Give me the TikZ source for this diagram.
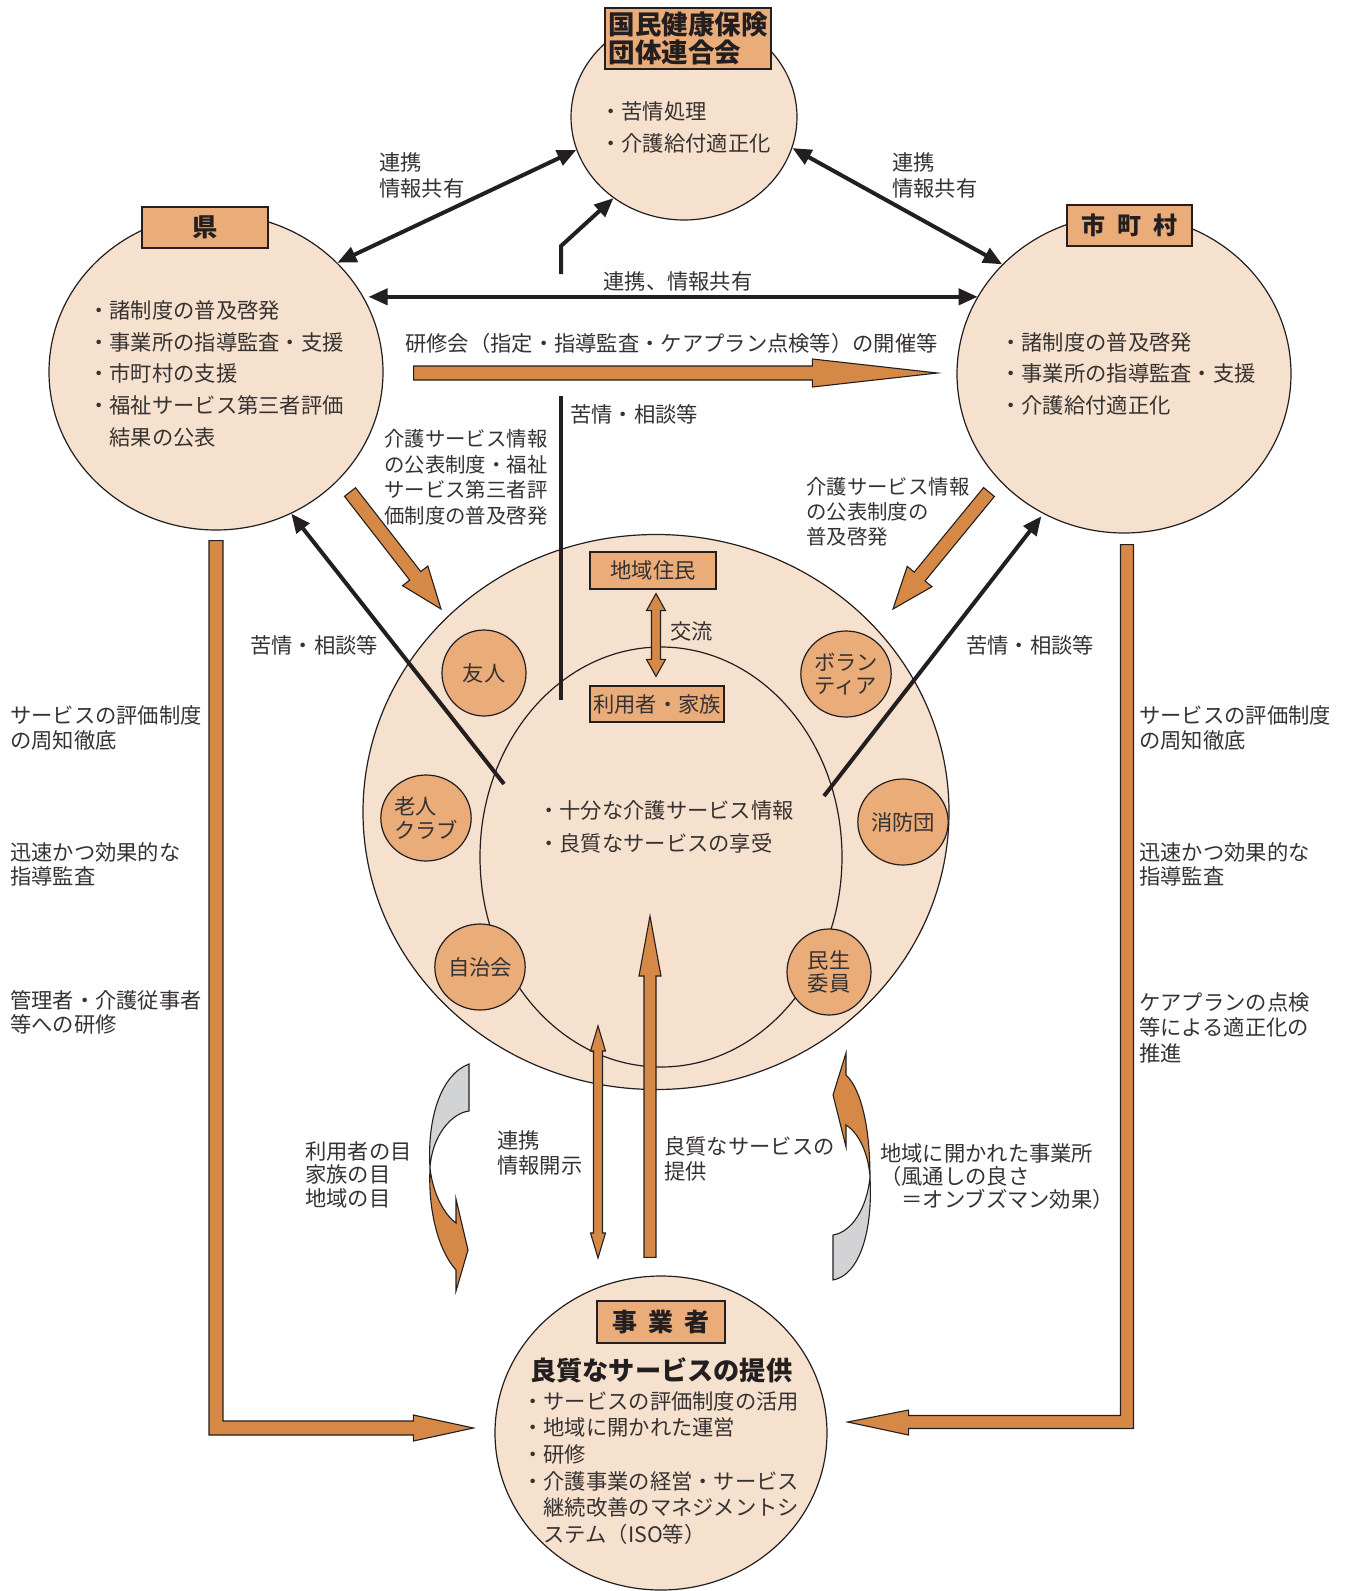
\documentclass[tikz,border=0pt]{standalone}
\usepackage{fontspec}
\setmainfont{Noto Sans CJK JP}
\usetikzlibrary{shapes.geometric,arrows.meta,calc}
\definecolor{cpeach}{RGB}{246,225,206}
\definecolor{ctan}{RGB}{234,172,121}
\definecolor{corange}{RGB}{214,137,70}
\definecolor{cgray}{RGB}{209,211,212}
\definecolor{cink}{RGB}{35,31,32}
\definecolor{ctext}{RGB}{55,50,50}
\newcommand\blockarrow[6][]{%
  \coordinate (bah) at ($(#3)!#6!(#2)$);
  \draw[blockarr,#1] ($(#2)!#4!90:(#3)$) -- ($(bah)!#4!90:(#3)$) -- ($(bah)!#5!90:(#3)$) -- (#3) -- ($(bah)!#5!-90:(#3)$) -- ($(bah)!#4!-90:(#3)$) -- ($(#2)!#4!-90:(#3)$) -- cycle;}
\newcommand\dblockarrow[6][]{%
  \coordinate (bah) at ($(#3)!#6!(#2)$);
  \coordinate (bat) at ($(#2)!#6!(#3)$);
  \draw[blockarr,#1] (#2) -- ($(bat)!#5!90:(#3)$) -- ($(bat)!#4!90:(#3)$) -- ($(bah)!#4!90:(#3)$) -- ($(bah)!#5!90:(#3)$) -- (#3) -- ($(bah)!#5!-90:(#3)$) -- ($(bah)!#4!-90:(#3)$) -- ($(bat)!#4!-90:(#3)$) -- ($(bat)!#5!-90:(#3)$) -- cycle;}
\begin{document}
\begin{tikzpicture}[x=1pt,y=-1pt,
  big/.style={ellipse, draw=cink, line width=1.2pt, fill=cpeach, inner sep=0pt},
  hdr/.style={draw=cink, line width=1.3pt, fill=ctan, inner sep=0pt, text=cink, font=\fontsize{26.5pt}{27.5pt}\selectfont\bfseries},
  lbl/.style={inner sep=0pt, text=ctext, font=\fontsize{21.3pt}{25.4pt}\selectfont, align=left},
  ml/.style={lbl, anchor=north west, font=\fontsize{21.3pt}{#1}\selectfont},
  mls/.style={lbl, anchor=north west, font=\fontsize{20.4pt}{#1}\selectfont},
  sl/.style={lbl, anchor=base west},
  sm/.style={ellipse, draw=cink, line width=1.2pt, fill=ctan, inner sep=0pt, minimum width=84pt, minimum height=86pt, text=ctext, font=\fontsize{21.3pt}{23.5pt}\selectfont, align=left},
  ibox/.style={draw=cink, line width=1.2pt, fill=ctan, inner sep=0pt, text=ctext, font=\fontsize{21.3pt}{24pt}\selectfont},
  blk/.style={draw=cink, line width=4pt},
  blkarr/.style={blk, -{Triangle[length=19pt,width=16pt]}},
  blkdbl/.style={blk, {Triangle[length=19pt,width=16pt]}-{Triangle[length=19pt,width=16pt]}},
  blockarr/.style={draw=cink, line width=1.1pt, fill=corange, line join=miter},
  curv/.style={draw=cink, line width=1.1pt},
]
\useasboundingbox (0,0) rectangle (1347,1591);

% main ellipses
\node[big, minimum width=226pt, minimum height=206pt] (koku) at (684,117) {};
\node[big, minimum width=334pt, minimum height=316pt] (ken) at (216,372) {};
\node[big, minimum width=334pt, minimum height=318pt] (shi) at (1124,374) {};
\node[big, minimum width=586pt, minimum height=555pt] (outer) at (656,812) {};
\node[big, minimum width=362pt, minimum height=420pt] (inner) at (661,857) {};
\node[big, minimum width=332pt, minimum height=314pt] (jig) at (661,1433) {};

% header boxes
\node[hdr, minimum width=166pt, minimum height=61pt, align=left] (hkoku) at (688,38.5) {国民健康保険\\団体連合会};
\node[hdr, minimum width=126pt, minimum height=41pt, font=\fontsize{25.3pt}{27pt}\selectfont\bfseries] (hken) at (205,227.5) {県};
\node[hdr, minimum width=125pt, minimum height=41pt, font=\fontsize{24pt}{26pt}\selectfont\bfseries] (hshi) at (1129.5,225.5) {市\hspace{0.5em}町\hspace{0.5em}村};
\node[hdr, minimum width=128pt, minimum height=42pt, font=\fontsize{25pt}{26pt}\selectfont\bfseries] (hjig) at (661,1322) {事\hspace{0.45em}業\hspace{0.45em}者};

% inner boxes and small circles
\node[ibox, minimum width=126pt, minimum height=37pt] (chiiki) at (653,570.5) {地域住民};
\node[ibox, minimum width=134pt, minimum height=36pt] (riyo) at (657,704) {利用者・家族};
\node[sm] (yujin) at (484,673) {友人};
\node[sm] (vol) at (846,674) {ボラン\\ティア};
\node[sm] (rojin) at (426,818) {老人\\クラブ};
\node[sm] (shobo) at (903,822) {消防団};
\node[sm] (jichi) at (480,967) {自治会};
\node[sm] (minsei) at (829,972) {民生\\委員};

% orange block arrows
\coordinate (ksA) at ($(ken.east)+(30,1)$);
\coordinate (ksB) at ($(shi.west)+(-19,-1)$);
\blockarrow{ksA}{ksB}{7pt}{14pt}{125pt}
\coordinate (dlA) at (350,492);
\coordinate (dlB) at (441,609);
\blockarrow{dlA}{dlB}{7pt}{16pt}{42pt}
\coordinate (drA) at (989,492);
\coordinate (drB) at (893,609);
\blockarrow{drA}{drB}{7pt}{16pt}{42pt}
\coordinate (kouA) at ($(chiiki.south)+(3,4)$);
\coordinate (kouB) at ($(riyo.north)+(-1,-9)$);
\dblockarrow{kouA}{kouB}{4.5pt}{9.5pt}{17pt}
\coordinate (kjA) at (598,1258);
\coordinate (kjB) at (598,1026);
\dblockarrow{kjA}{kjB}{4.5pt}{7.5pt}{25pt}
\coordinate (ryA) at ($(jig.north)+(-11,-18)$);
\coordinate (ryB) at (650,916);
\blockarrow{ryA}{ryB}{6pt}{11pt}{60pt}

% L-shaped arrows
\coordinate (LA) at ($(ken.south)+(0,10)$);
\coordinate (LT) at ($(jig.west)+(-21,-5)$);
\draw[blockarr] ($(LA)+(-7,0)$) -- ($(LA)+(7,0)$) -- ($(LA |- LT)+(7,-7)$) -- ($(LT)+(-60,-7)$) -- ($(LT)+(-60,-13)$) -- (LT) -- ($(LT)+(-60,13)$) -- ($(LT)+(-60,7)$) -- ($(LA |- LT)+(-7,7)$) -- cycle;
\coordinate (RA) at ($(shi.south)+(3,11)$);
\coordinate (RT) at ($(jig.east)+(20,-11)$);
\draw[blockarr] ($(RA)+(-6.5,0)$) -- ($(RA)+(6.5,0)$) -- ($(RA |- RT)+(6.5,6.5)$) -- ($(RT)+(61,6.5)$) -- ($(RT)+(61,13)$) -- (RT) -- ($(RT)+(61,-12)$) -- ($(RT)+(61,-6.5)$) -- ($(RA |- RT)+(-6.5,-6.5)$) -- cycle;

% curved twisted arrows
\draw[curv, fill=cgray] (469,1064) -- (469,1111) .. controls (452,1113) and (432,1135) .. (430,1168) .. controls (427,1120) and (440,1075) .. (469,1064) -- cycle;
\draw[curv, fill=corange] (430,1168) .. controls (433,1195) and (445,1215) .. (456,1223) -- (456,1199) -- (468,1250) -- (456,1291) -- (456,1270) .. controls (438,1250) and (428,1210) .. (430,1168) -- cycle;
\draw[curv, fill=corange] (846,1053) -- (833,1095) -- (846,1147) -- (846,1125) .. controls (862,1135) and (869,1160) .. (870,1177) .. controls (870,1130) and (862,1090) .. (846,1075) -- cycle;
\draw[curv, fill=cgray] (870,1177) .. controls (873,1230) and (860,1275) .. (833,1280) -- (833,1235) .. controls (852,1232) and (867,1208) .. (870,1177) -- cycle;

% black connectors
\draw[blkdbl] (ken.42) -- (koku.197);
\draw[blkdbl] (koku.344) -- (shi.138);
\draw[blkdbl, shorten <=5pt] (ken.27) -- (ken.27 -| shi.152);
\coordinate (kq1) at (504,784);
\draw[blkarr] (kq1) -- (ken.298);
\coordinate (kq2) at (824,796);
\draw[blkarr, shorten >=3pt] (kq2) -- (shi.240);
\coordinate (kv1) at (561,700);
\coordinate (kv2) at (561,396);
\draw[blk] (kv1) -- (kv2);
\coordinate (kv3) at (561,274);
\coordinate (kv4) at (561,246);
\draw[blkarr, line join=miter] (kv3) -- (kv4) -- (koku.229);

% circle texts
\node[ml=32pt] (tkoku) at (600,101) {・苦情処理\\・介護給付適正化};
\node[ml=31.7pt] (tken) at (88,300.2) {・諸制度の普及啓発\\・事業所の指導監査・支援\\・市町村の支援\\・福祉サービス第三者評価\\　結果の公表};
\node[ml=31.6pt] (tshi) at (1000,332.2) {・諸制度の普及啓発\\・事業所の指導監査・支援\\・介護給付適正化};
\node[ml=33pt] (tinner) at (538,800.2) {・十分な介護サービス情報\\・良質なサービスの享受};
\node[lbl, anchor=base west, text=cink, font=\fontsize{26.2pt}{28pt}\selectfont\bfseries] (tjig1) at (530,1380) {良質なサービスの提供};
\node[ml=26.6pt] (tjig2) at (522,1391.2) {・サービスの評価制度の活用\\・地域に開かれた運営\\・研修\\・介護事業の経営・サービス\\　継続改善のマネジメントシ\\　ステム（ISO等）};

% labels
\node[ml=26.5pt] (l1) at (379,152.2) {連携\\情報共有};
\node[ml=26.5pt] (l2) at (892,152.2) {連携\\情報共有};
\node[lbl, anchor=base] (l3) at (678,289.1) {連携、情報共有};
\node[sl] (l4) at (405,351.1) {研修会（指定・指導監査・ケアプラン点検等）の開催等};
\node[sl] (l5) at (570,422.1) {苦情・相談等};
\node[sl] (l6) at (250,653.1) {苦情・相談等};
\node[sl] (l7) at (966,653.1) {苦情・相談等};
\node[mls=25.4pt] (l8) at (384,429.6) {介護サービス情報\\の公表制度・福祉\\サービス第三者評\\価制度の普及啓発};
\node[mls=24.8pt] (l9) at (806,477.6) {介護サービス情報\\の公表制度の\\普及啓発};
\node[sl] (l10) at (670,639.1) {交流};
\node[ml=25.5pt] (lc1) at (10,705.2) {サービスの評価制度\\の周知徹底};
\node[ml=24pt] (lc2) at (10,842.2) {迅速かつ効果的な\\指導監査};
\node[ml=24.5pt] (lc3) at (10,990.2) {管理者・介護従事者\\等への研修};
\node[ml=25.5pt] (rc1) at (1139,705.2) {サービスの評価制度\\の周知徹底};
\node[ml=24pt] (rc2) at (1139,842.2) {迅速かつ効果的な\\指導監査};
\node[ml=25.5pt] (rc3) at (1139,992.2) {ケアプランの点検\\等による適正化の\\推進};
\node[ml=23.5pt] (l13) at (305,1141.2) {利用者の目\\家族の目\\地域の目};
\node[ml=25pt] (l14) at (497,1130.2) {連携\\情報開示};
\node[ml=25.5pt] (l15) at (664,1136.2) {良質なサービスの\\提供};
\node[ml=23pt] (l16) at (880,1143.2) {地域に開かれた事業所\\（風通しの良さ\\　＝オンブズマン効果）};
\end{tikzpicture}
\end{document}
